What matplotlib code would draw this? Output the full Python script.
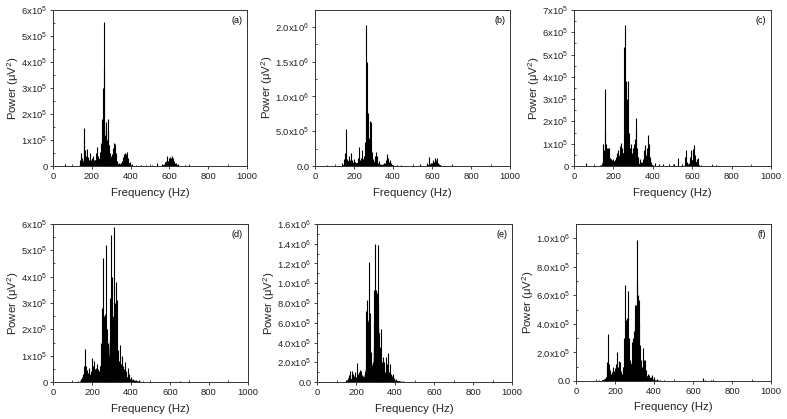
import numpy as np
import matplotlib
matplotlib.use("Agg")
import matplotlib.pyplot as plt
from matplotlib.ticker import MultipleLocator, FuncFormatter

plt.rcParams['font.family'] = ['Liberation Sans', 'DejaVu Sans']
plt.rcParams['mathtext.fontset'] = 'custom'
plt.rcParams['mathtext.rm'] = 'Liberation Sans'
plt.rcParams['mathtext.default'] = 'regular'

# peak frequencies (Hz) and powers (units of 1e5 uV^2)
a_f = [60, 140, 145, 152, 158, 161, 166, 172, 177, 183, 190, 197, 203, 208, 215, 221, 225, 232, 240, 246,
       251, 255, 258, 261, 264, 268, 272, 275, 279, 282, 285, 289, 294, 300, 306, 311, 315, 318, 323, 330,
       340, 355, 362, 368, 372, 378, 383, 388, 395, 405, 430, 455, 480, 510, 534, 560, 575, 582, 588, 595,
       600, 605, 610, 615, 620, 625, 635, 645, 680, 700]
a_p = [0.06, 0.25, 0.5, 0.3, 1.0, 1.48, 0.6, 0.4, 0.65, 0.35, 0.5, 0.25, 0.3, 0.4, 0.2, 0.5, 0.75, 0.4, 0.55, 0.87,
       0.6, 1.8, 3.0, 3.75, 5.55, 1.2, 1.5, 1.7, 1.0, 1.3, 1.8, 0.8, 0.5, 0.35, 0.45, 0.7, 0.9, 0.85, 0.5, 0.2,
       0.1, 0.2, 0.35, 0.45, 0.5, 0.45, 0.55, 0.3, 0.15, 0.08, 0.05, 0.04, 0.03, 0.03, 0.12, 0.06, 0.15, 0.2, 0.37, 0.2,
       0.3, 0.35, 0.3, 0.38, 0.3, 0.2, 0.12, 0.08, 0.03, 0.05]
a_bf = [0, 130, 150, 160, 200, 240, 255, 265, 275, 290, 310, 320, 340, 360, 380, 400, 420, 550, 575, 600, 620, 640, 660, 1000]
a_bp = [0, 0, 0.1, 0.3, 0.2, 0.3, 0.6, 1.0, 0.8, 0.4, 0.35, 0.2, 0.05, 0.2, 0.25, 0.05, 0, 0, 0.08, 0.15, 0.15, 0.05, 0, 0]

b_f = [60, 140, 148, 153, 157, 161, 166, 172, 178, 186, 192, 198, 205, 212, 218, 224, 230, 236, 240, 246,
       252, 256, 260, 263, 265, 268, 272, 276, 280, 284, 288, 292, 298, 305, 310, 315, 320, 326, 335, 345,
       355, 362, 368, 371, 376, 382, 390, 400, 420, 440, 490, 536, 575, 585, 595, 605, 613, 619, 625, 632,
       640, 700]
b_p = [0.1, 0.5, 1.0, 1.8, 5.3, 2.0, 1.0, 1.5, 0.8, 1.9, 0.8, 1.0, 0.6, 0.5, 1.2, 2.7, 0.8, 1.2, 2.3, 1.0,
       1.5, 3.5, 8.0, 20.3, 15.0, 6.0, 7.6, 4.0, 3.0, 6.5, 6.3, 2.0, 1.0, 0.8, 1.5, 2.0, 1.5, 0.7, 0.3, 0.2,
       0.4, 0.8, 1.3, 1.7, 1.2, 0.8, 0.4, 0.2, 0.1, 0.1, 0.05, 0.3, 0.4, 1.3, 0.5, 0.8, 1.1, 0.9, 1.1, 0.5,
       0.2, 0.1]
b_bf = [0, 130, 150, 170, 200, 240, 255, 265, 275, 290, 310, 330, 355, 370, 390, 410, 560, 590, 610, 630, 650, 1000]
b_bp = [0, 0, 0.3, 0.8, 0.5, 0.5, 1.5, 3.5, 2.0, 0.5, 0.8, 0.2, 0.3, 0.8, 0.3, 0, 0, 0.3, 0.6, 0.4, 0, 0]

c_f = [60, 130, 140, 145, 150, 155, 159, 163, 167, 172, 177, 183, 190, 197, 205, 212, 218, 225, 232, 237,
       242, 247, 252, 255, 257, 260, 264, 268, 271, 275, 279, 283, 288, 292, 298, 303, 308, 313, 316, 320,
       326, 333, 340, 348, 355, 360, 365, 370, 376, 380, 386, 393, 410, 430, 450, 480, 505, 528, 550, 562,
       567, 575, 590, 596, 602, 607, 610, 615, 622, 630, 645, 700, 720, 800]
c_p = [0.15, 0.05, 0.1, 1.0, 0.7, 1.6, 3.44, 1.0, 0.8, 0.8, 0.8, 0.3, 0.2, 0.3, 0.2, 0.4, 0.6, 0.7, 0.9, 1.05,
       0.8, 0.6, 1.0, 5.35, 6.32, 2.0, 3.8, 1.5, 3.0, 3.8, 1.5, 0.8, 1.0, 0.6, 0.8, 1.0, 1.2, 2.14, 1.6, 0.8,
       0.4, 0.3, 0.2, 0.3, 0.7, 0.95, 0.5, 0.8, 1.39, 1.0, 0.4, 0.2, 0.15, 0.08, 0.08, 0.1, 0.1, 0.35, 0.1, 0.4,
       0.7, 0.2, 0.4, 0.7, 0.75, 0.6, 0.93, 0.5, 0.3, 0.35, 0.05, 0.03, 0.03, 0.02]
c_bf = [0, 135, 150, 160, 180, 200, 230, 250, 265, 285, 310, 330, 350, 370, 390, 410, 550, 580, 600, 620, 640, 1000]
c_bp = [0, 0, 0.3, 0.7, 0.4, 0.2, 0.5, 0.6, 0.8, 0.4, 0.6, 0.1, 0.2, 0.4, 0.1, 0, 0, 0.1, 0.3, 0.2, 0, 0]

d_f = [130, 145, 152, 158, 164, 168, 174, 180, 187, 193, 200, 205, 210, 215, 220, 225, 230, 236, 242, 247,
       252, 256, 260, 264, 268, 272, 276, 280, 285, 290, 294, 298, 301, 305, 309, 314, 318, 321, 325, 329,
       334, 338, 343, 348, 352, 357, 362, 369, 375, 383, 390, 398, 410, 425, 440, 460, 650, 680]
d_p = [0.05, 0.1, 0.3, 0.6, 1.27, 0.6, 0.45, 0.35, 0.55, 0.4, 0.9, 0.6, 0.8, 0.5, 0.55, 0.7, 0.5, 0.4, 0.6, 1.5,
       2.8, 4.7, 2.5, 1.8, 2.6, 5.2, 2.0, 1.5, 1.0, 1.6, 3.2, 5.6, 4.0, 2.5, 2.0, 5.9, 3.0, 3.8, 2.6, 3.1,
       1.2, 0.8, 1.4, 0.7, 1.0, 0.6, 0.5, 0.75, 0.4, 0.55, 0.3, 0.2, 0.12, 0.08, 0.06, 0.03, 0.02, 0.01]
d_bf = [0, 135, 150, 170, 200, 240, 252, 262, 275, 285, 295, 310, 325, 340, 360, 400, 430, 470, 1000]
d_bp = [0, 0, 0.2, 0.3, 0.3, 0.4, 1.5, 2.0, 1.0, 0.8, 2.5, 2.5, 1.0, 0.4, 0.3, 0.1, 0.05, 0, 0]

e_f = [140, 150, 158, 165, 170, 177, 183, 190, 197, 203, 208, 214, 220, 226, 232, 238, 244, 249, 253, 256,
       260, 264, 268, 271, 275, 280, 285, 290, 293, 296, 300, 304, 308, 311, 315, 319, 323, 327, 331, 336,
       341, 346, 352, 357, 361, 366, 371, 375, 381, 386, 390, 396, 405, 420, 440, 460, 580, 680]
e_p = [0.05, 0.2, 0.4, 0.7, 1.1, 1.1, 0.8, 0.6, 1.0, 1.9, 0.8, 1.0, 1.2, 1.1, 0.7, 0.6, 1.0, 2.5, 7.2, 8.3,
       6.0, 4.5, 12.2, 7.0, 3.0, 1.5, 2.0, 6.0, 9.3, 14.0, 9.3, 9.2, 7.0, 13.9, 8.0, 5.0, 3.5, 5.4, 2.0, 2.5,
       1.5, 2.0, 2.5, 1.5, 1.8, 2.9, 1.0, 1.8, 0.8, 0.6, 0.8, 0.4, 0.3, 0.15, 0.08, 0.03, 0.02, 0.01]
e_bf = [0, 140, 160, 200, 240, 250, 258, 266, 275, 288, 295, 310, 318, 335, 360, 380, 400, 440, 480, 1000]
e_bp = [0, 0, 0.3, 0.5, 0.5, 1.5, 6.0, 6.5, 1.5, 2.0, 9.0, 9.0, 4.0, 1.0, 1.0, 0.4, 0.2, 0.05, 0, 0]

f_f = [120, 135, 145, 152, 157, 160, 164, 168, 173, 178, 184, 190, 196, 202, 207, 211, 215, 220, 225, 230,
       236, 242, 247, 251, 255, 259, 263, 267, 271, 275, 280, 285, 290, 295, 300, 304, 308, 311, 314, 317,
       321, 325, 329, 333, 338, 344, 349, 355, 360, 367, 375, 383, 390, 400, 415, 430, 450, 650, 660, 690, 720]
f_p = [0.05, 0.1, 0.1, 0.3, 1.3, 1.0, 3.3, 1.2, 0.8, 0.5, 0.6, 1.0, 0.7, 0.9, 1.2, 2.0, 1.0, 1.4, 1.3, 0.7,
       0.5, 1.0, 3.0, 6.7, 4.3, 3.0, 4.4, 6.3, 3.0, 1.5, 1.0, 2.7, 3.0, 3.5, 4.0, 5.3, 5.3, 7.0, 9.9, 6.0,
       4.0, 5.7, 2.5, 1.5, 1.0, 2.3, 1.5, 1.5, 0.8, 0.5, 0.4, 0.3, 0.4, 0.25, 0.15, 0.1, 0.05, 0.2, 0.1, 0.05, 0.03]
f_bf = [0, 125, 150, 165, 200, 240, 250, 262, 275, 290, 300, 315, 325, 340, 360, 400, 450, 1000]
f_bp = [0, 0, 0.2, 0.5, 0.4, 0.4, 2.5, 3.0, 1.0, 1.5, 3.0, 4.5, 2.0, 0.6, 0.4, 0.1, 0, 0]

panels = [
    ('(a)', a_f, a_p, a_bf, a_bp, 6e5, 1e5, 0),
    ('(b)', b_f, b_p, b_bf, b_bp, 2.25e6, 5e5, 1),
    ('(c)', c_f, c_p, c_bf, c_bp, 7e5, 1e5, 0),
    ('(d)', d_f, d_p, d_bf, d_bp, 6e5, 1e5, 0),
    ('(e)', e_f, e_p, e_bf, e_bp, 1.6e6, 2e5, 1),
    ('(f)', f_f, f_p, f_bf, f_bp, 1.1e6, 2e5, 1),
]

# axes boxes in figure fractions [left, bottom, width, height]
boxes = [
    [0.0673, 0.6038, 0.2465, 0.3723],
    [0.4003, 0.6038, 0.2478, 0.3735],
    [0.7294, 0.6038, 0.2503, 0.3723],
    [0.0673, 0.0883, 0.2478, 0.3771],
    [0.4028, 0.0883, 0.2478, 0.3771],
    [0.7319, 0.0907, 0.2478, 0.3747],
]


def make_fmt(decimals):
    def fmt(v, pos):
        if abs(v) < 1e-9:
            return '0.0' if decimals else '0'
        if v < 0:
            return ''
        e = int(np.floor(np.log10(v) + 1e-9))
        m = v / 10 ** e
        ms = ('%.1f' % m) if decimals else ('%d' % round(m))
        return ms + 'x10$^{%d}$' % e
    return fmt


fig = plt.figure(figsize=(7.87, 4.19), dpi=100)

for (lab, f, p, bf, bp, ymax, step, dec), box in zip(panels, boxes):
    ax = fig.add_axes(box)
    ax.fill_between(bf, 0, np.array(bp) * 1e5, color='black', lw=0)
    ax.vlines(f, 0, np.array(p) * 1e5, color='black', lw=0.8)
    ax.set_xlim(0, 1000)
    ax.set_ylim(0, ymax)
    ax.xaxis.set_major_locator(MultipleLocator(200))
    ax.xaxis.set_minor_locator(MultipleLocator(100))
    ax.yaxis.set_major_locator(MultipleLocator(step))
    ax.yaxis.set_minor_locator(MultipleLocator(step / 2))
    ax.yaxis.set_major_formatter(FuncFormatter(make_fmt(dec)))
    ax.tick_params(which='major', direction='out', length=2.5, width=0.6, labelsize=6.8, pad=1.5,
                   colors='#222222')
    ax.tick_params(which='minor', direction='in', length=1.5, width=0.5)
    for s in ax.spines.values():
        s.set_linewidth(0.7)
        s.set_color('#333333')
    ax.set_xlabel('Frequency (Hz)', fontsize=8.2, labelpad=5, color='#222222')
    ax.set_ylabel('Power (\u03bcV$^2$)', fontsize=8.2, labelpad=0.5, color='#222222')
    ax.text(0.975, 0.96, lab, transform=ax.transAxes, ha='right', va='top', fontsize=6.5)

fig.savefig('out.png', dpi=100)
